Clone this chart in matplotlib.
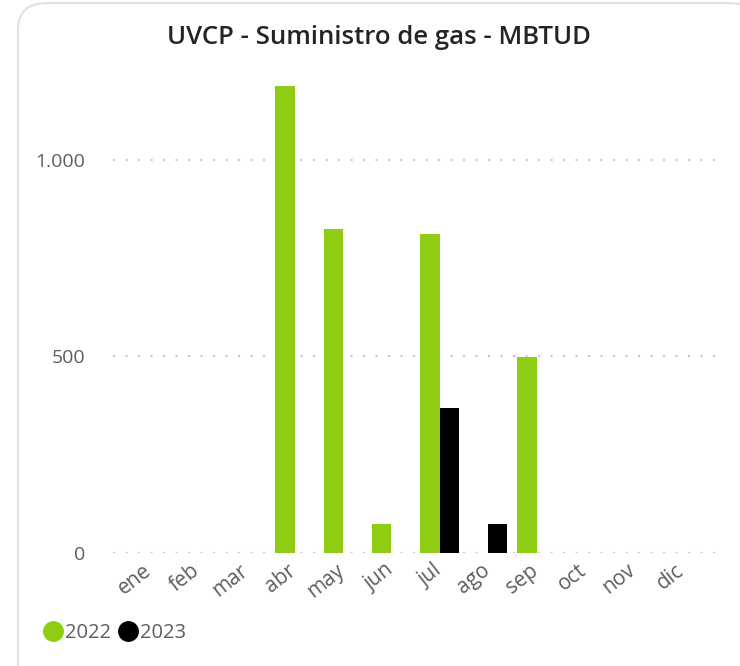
import numpy as np
import matplotlib.pyplot as plt
import matplotlib.transforms as mtransforms
from matplotlib.patches import FancyBboxPatch
from matplotlib.lines import Line2D
from matplotlib.ticker import FuncFormatter

plt.rcParams['font.family'] = ['Open Sans', 'DejaVu Sans']

# Datos
meses = ['ene', 'feb', 'mar', 'abr', 'may', 'jun', 'jul', 'ago', 'sep', 'oct', 'nov', 'dic']
v2022 = [0, 0, 0, 1188, 824, 74, 812, 0, 499, 0, 0, 0]
v2023 = [0, 0, 0, 0, 0, 0, 369, 74, 0, 0, 0, 0]
series = ['2022', '2023']
colores = ['#8FCC14', '#000000']

fig = plt.figure(figsize=(7.4, 6.66), dpi=100)

# marco de la tarjeta
card = FancyBboxPatch((18 / 740, -0.05), 1.0, 1.05 - 3 / 666,
                      boxstyle='round,pad=0,rounding_size=0.04',
                      transform=fig.transFigure, facecolor='white',
                      edgecolor='#E1E1E1', linewidth=1.5, zorder=-5)
fig.patches.append(card)

ax = fig.add_axes([113 / 740, 1 - 553 / 666, (718 - 113) / 740, (553 - 75) / 666])
ax.set_facecolor('none')
ax.set_zorder(2)

x = np.arange(len(meses))
w = 0.4
ax.bar(x - w / 2, [v if v else np.nan for v in v2022], w, color=colores[0], zorder=3)
ax.bar(x + w / 2, [v if v else np.nan for v in v2023], w, color=colores[1], zorder=3)

ax.set_xlim(-0.75, 11.75)
ax.set_ylim(0, 1216)
ax.set_yticks([0, 500, 1000])
ax.yaxis.set_major_formatter(FuncFormatter(lambda v, p: f'{int(v):,}'.replace(',', '.')))
ax.grid(axis='y', color='#C8C8C8', linestyle=(0, (1, 5)), linewidth=1.5, zorder=1)
for s in ax.spines.values():
    s.set_visible(False)
ax.tick_params(axis='both', length=0, labelsize=14, labelcolor='#605E5C')
ax.tick_params(axis='y', pad=20)
ax.set_xticks(x)
ax.set_xticklabels(meses, rotation=38, ha='right', rotation_mode='anchor', fontsize=15)
ax.tick_params(axis='x', pad=5)
# desplazar etiquetas un poco a la izquierda
shift = mtransforms.ScaledTranslation(-7 / 100, 0, fig.dpi_scale_trans)
for lbl in ax.get_xticklabels():
    lbl.set_transform(lbl.get_transform() + shift)

fig.text(379 / 740, 1 - 37 / 666, 'UVCP - Suministro de gas - MBTUD',
         ha='center', va='center', fontsize=18.5, fontweight='semibold', color='#252423')

handles = [Line2D([], [], marker='o', linestyle='', markersize=14, color=c) for c in colores]
fig.legend(handles, series, loc='center left', bbox_to_anchor=(31 / 740, 1 - 633 / 666),
           frameon=False, fontsize=14.5, labelcolor='#605E5C', ncol=2,
           handletextpad=0.0, columnspacing=0.25, borderpad=0, handlelength=1.2)

fig.savefig('out.png', dpi=100)
